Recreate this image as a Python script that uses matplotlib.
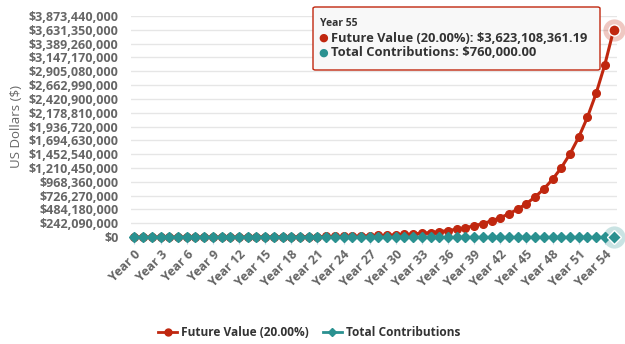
import matplotlib
matplotlib.use("Agg")
import matplotlib.pyplot as plt
from matplotlib.patches import FancyBboxPatch
from matplotlib.lines import Line2D

years = list(range(56))
future_value = [100000, 132000, 170400, 216480, 271776, 338131, 417757, 513309, 627971, 765565,
                930678, 1128813, 1366576, 1651891, 1994270, 2405123, 2898148, 3489778, 4199733, 5051680,
                6074016, 7300819, 8772983, 10539580, 12659496, 15203395, 18256074, 21919288, 26315146, 31590175,
                37920210, 45516252, 54631503, 65569803, 78695764, 94446917, 113348300, 136029960, 163247952, 195909542,
                235103451, 282136141, 338575369, 406302443, 487574932, 585101918, 702134302, 842573162, 1011099795, 1213331754,
                1456010104, 1747224125, 2096680950, 2516029141, 3019246968, 3623108361]
contributions = [100000, 112000, 124000, 136000, 148000, 160000, 172000, 184000, 196000, 208000,
                 220000, 232000, 244000, 256000, 268000, 280000, 292000, 304000, 316000, 328000,
                 340000, 352000, 364000, 376000, 388000, 400000, 412000, 424000, 436000, 448000,
                 460000, 472000, 484000, 496000, 508000, 520000, 532000, 544000, 556000, 568000,
                 580000, 592000, 604000, 616000, 628000, 640000, 652000, 664000, 676000, 688000,
                 700000, 712000, 724000, 736000, 748000, 760000]
y_ticks = [0, 242090000, 484180000, 726270000, 968360000, 1210450000, 1452540000, 1694630000,
           1936720000, 2178810000, 2420900000, 2662990000, 2905080000, 3147170000, 3389260000,
           3631350000, 3873440000]
x_tick_years = list(range(0, 56, 3))

RED = "#C0270F"
TEAL = "#2A9190"
GRAY = "#666666"
DARK = "#333333"
FONT = ["Open Sans", "DejaVu Sans"]
plt.rcParams['font.family'] = FONT

fig = plt.figure(figsize=(6.25, 3.44), dpi=100)
ax = fig.add_axes([131/625, 1-237/344, (617-131)/625, (237-16)/344])

ax.plot(years, future_value, color=RED, lw=2.2, marker='o', ms=5.5, zorder=3, clip_on=False)
ax.plot(years, contributions, color=TEAL, lw=1.5, marker='D', ms=4.8, zorder=4, clip_on=False)
# highlighted last points
ax.plot([years[-1]], [future_value[-1]], 'o', color=RED, ms=16, alpha=0.25, zorder=5, mec='none', clip_on=False)
ax.plot([years[-1]], [future_value[-1]], 'o', color=RED, ms=8, zorder=6, mec='white', mew=1, clip_on=False)
ax.plot([years[-1]], [contributions[-1]], 'o', color=TEAL, ms=16, alpha=0.25, zorder=5, mec='none', clip_on=False)
ax.plot([years[-1]], [contributions[-1]], 'D', color=TEAL, ms=7, zorder=6, mec='white', mew=1, clip_on=False)

ax.set_xlim(-0.4, 55.4)
ax.set_ylim(0, y_ticks[-1])
ax.set_yticks(y_ticks, labels=["${:,.0f}".format(v) for v in y_ticks],
              fontsize=9, fontweight='bold', color=GRAY)
ax.set_xticks(x_tick_years, labels=["Year %d" % y for y in x_tick_years], rotation=45,
              ha='right', rotation_mode='anchor', fontsize=9, fontweight='bold', color=GRAY)
ax.tick_params(axis='y', length=0, pad=9)
ax.tick_params(axis='x', length=5, color="#C0D0E0", pad=3)
ax.grid(axis='y', color="#E6E6E6", lw=1)
ax.set_axisbelow(True)
for s in ['top', 'right', 'left']:
    ax.spines[s].set_visible(False)
ax.spines['bottom'].set_color("#C0D0E0")
ax.set_ylabel("US Dollars ($)", fontsize=9.5, color=GRAY, labelpad=4)

# tooltip
box = FancyBboxPatch((313/625, 1-70/344), (600-313)/625, (70-7)/344,
                     boxstyle="round,pad=0,rounding_size=0.004", transform=fig.transFigure,
                     facecolor="#F8F8F8", edgecolor=RED, lw=1, zorder=10)
fig.patches.append(box)
fig.text(320/625, 1-23/344, "Year 55", fontsize=7.5, fontweight='bold', color=DARK, va='center', zorder=11)
fig.text(323/625, 1-38/344, "\u25CF", fontsize=8, color=RED, va='center', ha='center', zorder=11)
fig.text(331/625, 1-38/344, "Future Value (20.00%): $3,623,108,361.19", fontsize=9.3,
         fontweight='bold', color=DARK, va='center', zorder=11)
fig.text(323/625, 1-53/344, "\u25CF", fontsize=8, color=TEAL, va='center', ha='center', zorder=11)
fig.text(331/625, 1-53/344, "Total Contributions: $760,000.00", fontsize=9.3,
         fontweight='bold', color=DARK, va='center', zorder=11)

# legend
handles = [Line2D([], [], color=RED, lw=2, marker='o', ms=5),
           Line2D([], [], color=TEAL, lw=2, marker='D', ms=4)]
leg = fig.legend(handles, ["Future Value (20.00%)", "Total Contributions"], loc='center',
                 bbox_to_anchor=(309/625, 1-333/344), ncol=2, frameon=False,
                 prop={'weight': 'bold', 'size': 8.6}, handlelength=1.6, columnspacing=1.2,
                 handletextpad=0.3)
for t in leg.get_texts():
    t.set_color(DARK)

fig.savefig("out.png", dpi=100)
